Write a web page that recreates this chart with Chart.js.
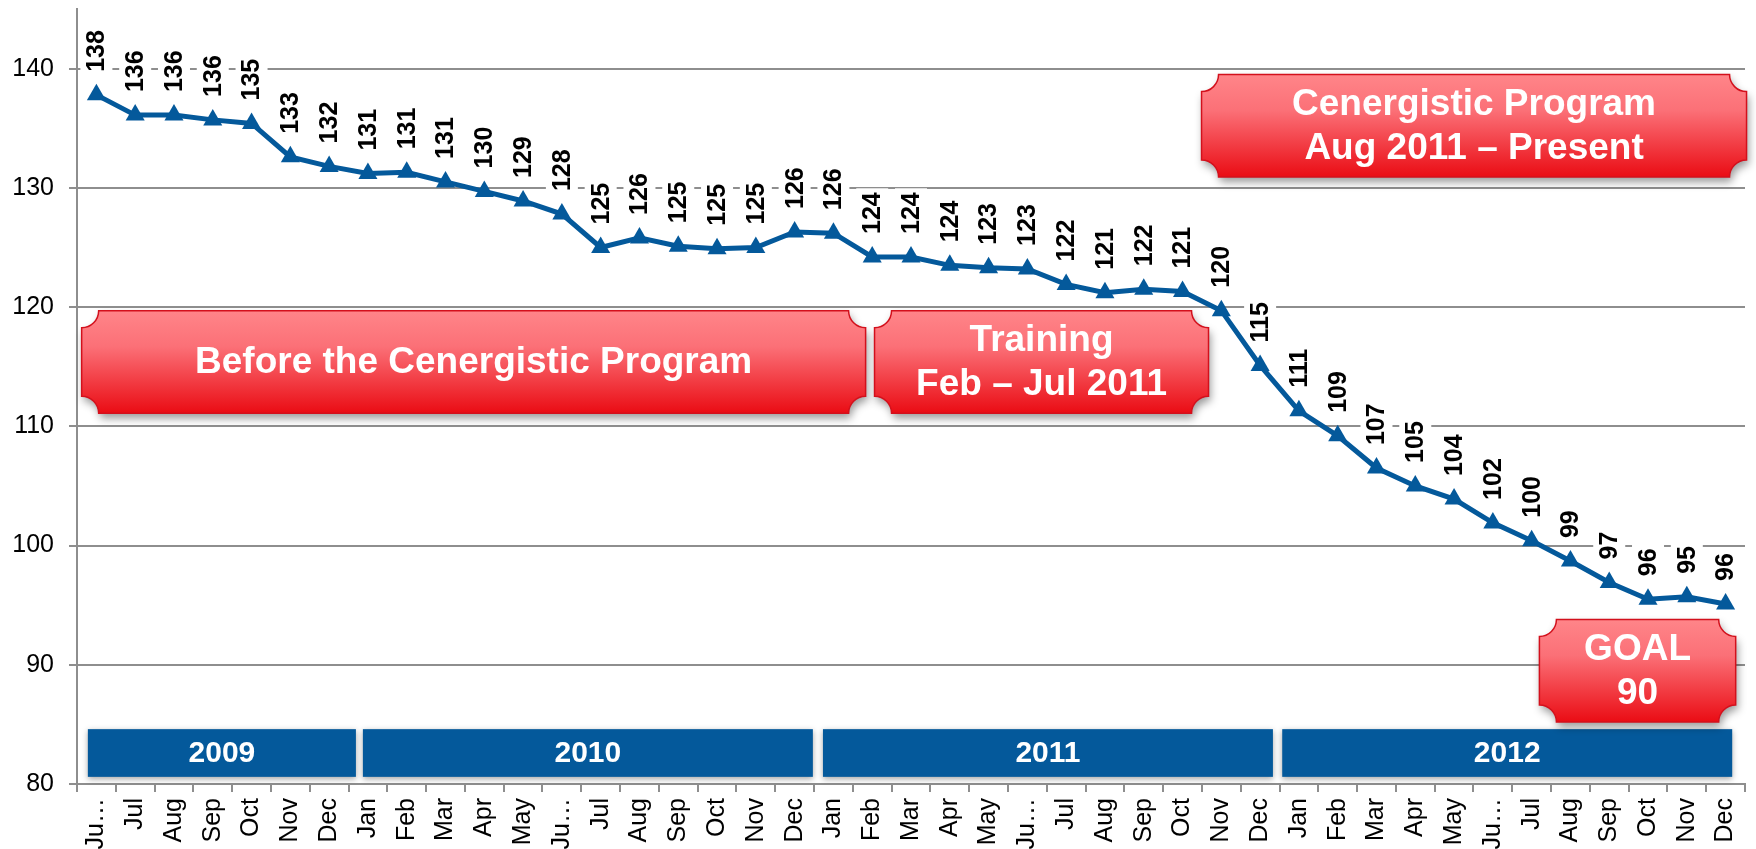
<!DOCTYPE html>
<html lang="en">
<head>
    <meta charset="UTF-8">
    <title>Cenergistic Program - monthly trend</title>
    <style>
        body { margin: 0; background: #fff; }
        #wrap { width: 1756px; height: 849px; position: relative; }
    </style>
    <script src="https://cdn.jsdelivr.net/npm/chart.js"></script>
</head>
<body>
    <div id="wrap"><canvas id="lineChart"></canvas></div>

    <script>
        // Jun 2009 .. Dec 2012
        var months = ['Ju\u2026', 'Jul', 'Aug', 'Sep', 'Oct', 'Nov', 'Dec',
            'Jan', 'Feb', 'Mar', 'Apr', 'May', 'Ju\u2026', 'Jul', 'Aug', 'Sep', 'Oct', 'Nov', 'Dec',
            'Jan', 'Feb', 'Mar', 'Apr', 'May', 'Ju\u2026', 'Jul', 'Aug', 'Sep', 'Oct', 'Nov', 'Dec',
            'Jan', 'Feb', 'Mar', 'Apr', 'May', 'Ju\u2026', 'Jul', 'Aug', 'Sep', 'Oct', 'Nov', 'Dec'];

        var monthlyValues = [137.8, 136.1, 136.1, 135.7, 135.4, 132.6, 131.8,
            131.2, 131.3, 130.5, 129.7, 128.9, 127.8, 125.0, 125.8, 125.1, 124.9, 125.0, 126.3,
            126.2, 124.2, 124.2, 123.5, 123.3, 123.2, 121.9, 121.2, 121.5, 121.3, 119.7, 115.1,
            111.3, 109.2, 106.5, 105.0, 103.9, 101.9, 100.4, 98.7, 96.9, 95.5, 95.7, 95.1];

        var valueLabels = ['138', '136', '136', '136', '135', '133', '132',
            '131', '131', '131', '130', '129', '128', '125', '126', '125', '125', '125', '126',
            '126', '124', '124', '124', '123', '123', '122', '121', '122', '121', '120', '115',
            '111', '109', '107', '105', '104', '102', '100', '99', '97', '96', '95', '96'];

        var years = ['2009', '2010', '2011', '2012'];

        // year banners along the bottom, in category-index units
        var yearBands = [
            { from: -0.22, to: 6.69 },
            { from: 6.87, to: 18.47 },
            { from: 18.73, to: 30.33 },
            { from: 30.57, to: 42.17 }
        ];

        // red callout boxes, placed in axis units (category index / y value)
        var callouts = [
            { text: ['Before the Cenergistic Program'], from: -0.38, to: 19.83, top: 119.7, bottom: 111.1 },
            { text: ['Training', 'Feb \u2013 Jul 2011'], from: 20.06, to: 28.67, top: 119.7, bottom: 111.1 },
            { text: ['Cenergistic Program', 'Aug 2011 \u2013 Present'], from: 28.49, to: 42.54, top: 139.5, bottom: 130.9 },
            { text: ['GOAL', '90'], from: 37.2, to: 42.26, top: 93.8, bottom: 85.2 }
        ];

        var FONT = "'Liberation Sans', Arial, sans-serif";
        var BLUE = '#04599b';
        var GRID = '#8e8e8e';

        function ribbonPath(ctx, x0, y0, x1, y1, r) {
            ctx.beginPath();
            ctx.moveTo(x0 + r, y0);
            ctx.lineTo(x1 - r, y0);
            ctx.arc(x1, y0, r, Math.PI, Math.PI / 2, true);
            ctx.lineTo(x1, y1 - r);
            ctx.arc(x1, y1, r, -Math.PI / 2, -Math.PI, true);
            ctx.lineTo(x0 + r, y1);
            ctx.arc(x0, y1, r, 0, -Math.PI / 2, true);
            ctx.lineTo(x0, y0 + r);
            ctx.arc(x0, y0, r, Math.PI / 2, 0, true);
            ctx.closePath();
        }

        var decorations = {
            id: 'decorations',
            beforeDatasetsDraw: function (chart) {
                var ctx = chart.ctx;
                var xs = chart.scales.x, ys = chart.scales.y;

                // year bars
                ctx.save();
                yearBands.forEach(function (b, k) {
                    var left = xs.getPixelForValue(b.from), right = xs.getPixelForValue(b.to);
                    var top = ys.getPixelForValue(84.6), bot = ys.getPixelForValue(80.6);
                    ctx.shadowColor = 'rgba(0,0,0,0.35)';
                    ctx.shadowBlur = 6;
                    ctx.shadowOffsetY = 2;
                    ctx.fillStyle = BLUE;
                    ctx.fillRect(left, top, right - left, bot - top);
                    ctx.shadowColor = 'transparent';
                    ctx.fillStyle = '#fff';
                    ctx.font = 'bold 30px ' + FONT;
                    ctx.textAlign = 'center';
                    ctx.textBaseline = 'middle';
                    ctx.fillText(years[k], (left + right) / 2, (top + bot) / 2 + 1);
                });
                ctx.restore();

                // callouts
                callouts.forEach(function (c) {
                    var x0 = xs.getPixelForValue(c.from), x1 = xs.getPixelForValue(c.to);
                    var y0 = ys.getPixelForValue(c.top), y1 = ys.getPixelForValue(c.bottom);
                    ctx.save();
                    var g = ctx.createLinearGradient(0, y0, 0, y1);
                    g.addColorStop(0, '#ff8589');
                    g.addColorStop(0.35, '#fb7077');
                    g.addColorStop(1, '#ea0c14');
                    ribbonPath(ctx, x0, y0, x1, y1, 17);
                    ctx.shadowColor = 'rgba(0,0,0,0.4)';
                    ctx.shadowBlur = 8;
                    ctx.shadowOffsetX = 2;
                    ctx.shadowOffsetY = 5;
                    ctx.fillStyle = g;
                    ctx.fill();
                    ctx.shadowColor = 'transparent';
                    ctx.lineWidth = 1.5;
                    ctx.strokeStyle = '#d3101c';
                    ctx.stroke();
                    ctx.fillStyle = '#fff';
                    ctx.font = 'bold 37px ' + FONT;
                    ctx.textAlign = 'center';
                    ctx.textBaseline = 'middle';
                    var cx = (x0 + x1) / 2, cy = (y0 + y1) / 2;
                    var lh = 44;
                    c.text.forEach(function (line, i) {
                        ctx.fillText(line, cx, cy + (i - (c.text.length - 1) / 2) * lh + 1);
                    });
                    ctx.restore();
                });

                // white backs behind the value labels
                var meta = chart.getDatasetMeta(0);
                ctx.save();
                ctx.font = 'bold 25px ' + FONT;
                ctx.fillStyle = '#fff';
                meta.data.forEach(function (pt, i) {
                    var w = ctx.measureText(valueLabels[i]).width;
                    var end = pt.y - 23;
                    ctx.fillRect(pt.x - 16, end - w - 4, 32, w + 8);
                });
                ctx.restore();
            },
            afterDatasetsDraw: function (chart) {
                var ctx = chart.ctx;
                var meta = chart.getDatasetMeta(0);
                ctx.save();
                ctx.font = 'bold 25px ' + FONT;
                ctx.fillStyle = '#000';
                ctx.textAlign = 'left';
                ctx.textBaseline = 'middle';
                meta.data.forEach(function (pt, i) {
                    ctx.save();
                    ctx.translate(pt.x + 1, pt.y - 23);
                    ctx.rotate(-Math.PI / 2);
                    ctx.fillText(valueLabels[i], 0, 0);
                    ctx.restore();
                });
                ctx.restore();
            }
        };

        var ctx = document.getElementById('lineChart').getContext('2d');
        var chart = new Chart(ctx, {
            type: 'line',
            data: {
                labels: months,
                datasets: [{
                    data: monthlyValues,
                    borderColor: BLUE,
                    backgroundColor: BLUE,
                    borderWidth: 5,
                    pointStyle: 'triangle',
                    pointRadius: 11,
                    pointBorderWidth: 0,
                    pointBackgroundColor: BLUE,
                    tension: 0
                }]
            },
            options: {
                responsive: true,
                maintainAspectRatio: false,
                animation: false,
                layout: { autoPadding: false, padding: { top: 9, right: 11, left: 0, bottom: 0 } },
                plugins: {
                    legend: { display: false },
                    tooltip: { enabled: false }
                },
                scales: {
                    x: {
                        offset: true,
                        grid: { drawOnChartArea: false, offset: true, tickLength: 8, color: GRID, lineWidth: 2 },
                        border: { color: GRID, width: 2 },
                        ticks: {
                            autoSkip: false, maxRotation: 90, minRotation: 90, padding: 6,
                            color: '#000', font: { family: FONT, size: 25 }
                        },
                        afterFit: function (s) {
                            s.height = 65;
                            s.paddingLeft = 0;
                            s.paddingRight = 0;
                        }
                    },
                    y: {
                        min: 80,
                        max: 145,
                        grid: { color: GRID, lineWidth: 2, tickLength: 8 },
                        border: { color: GRID, width: 2 },
                        ticks: {
                            stepSize: 10, includeBounds: false, padding: 15,
                            color: '#000', font: { family: FONT, size: 25 }
                        },
                        afterFit: function (s) {
                            s.width = 77;
                            s.paddingTop = 0;
                            s.paddingBottom = 0;
                        }
                    }
                }
            },
            plugins: [decorations]
        });
    </script>
</body>
</html>
